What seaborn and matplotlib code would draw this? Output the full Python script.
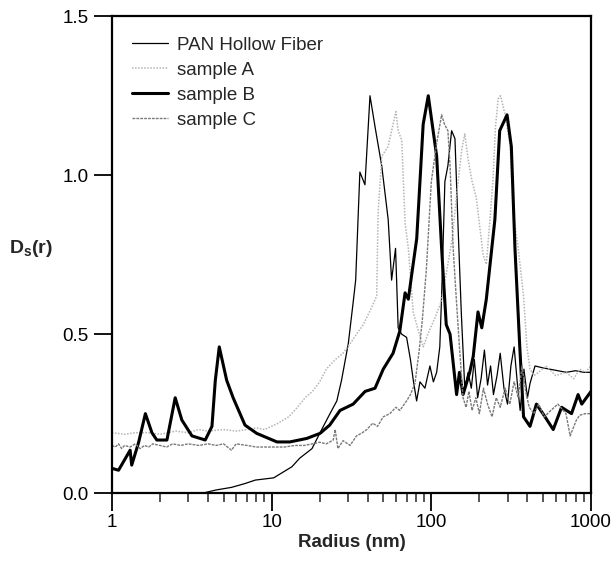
import numpy as np
import pandas as pd
import matplotlib
matplotlib.use("Agg")
import matplotlib.pyplot as plt
import seaborn as sns

# values (radius in nm, Ds(r))
pan_r = [3.7, 4.5, 5.6, 6.8, 7.9, 10.3, 13.4, 15.0, 17.9, 20.1, 23.2, 25.6, 27.4, 30.2, 32.4,
         33.6, 35.0, 35.7, 38.4, 41.3, 44.5, 48.9, 53.7, 56.4, 59.7, 62.0, 65.2, 70.0, 74.0,
         77.1, 80.9, 84.9, 91.2, 95.0, 98.0, 103, 108, 113, 116, 121.6, 127, 134, 140.6, 147,
         154, 162, 170, 178, 186, 195, 205, 215, 225, 235, 245, 258, 270, 285, 300, 315, 330,
         345, 360, 380, 400, 415, 446, 490, 550, 620, 700, 800, 900, 1000]
pan_d = [0.0, 0.01, 0.018, 0.03, 0.041, 0.048, 0.083, 0.11, 0.14, 0.19, 0.25, 0.29, 0.355, 0.47, 0.60,
         0.67, 0.90, 1.01, 0.97, 1.25, 1.15, 1.03, 0.86, 0.67, 0.77, 0.52, 0.50, 0.49, 0.42,
         0.355, 0.29, 0.35, 0.33, 0.37, 0.40, 0.35, 0.38, 0.46, 0.62, 0.98, 1.03, 1.14, 1.115, 0.84,
         0.57, 0.33, 0.38, 0.33, 0.42, 0.30, 0.36, 0.45, 0.34, 0.40, 0.31, 0.37, 0.44, 0.33, 0.28, 0.40, 0.46,
         0.35, 0.26, 0.39, 0.30, 0.345, 0.40, 0.395, 0.39, 0.385, 0.38, 0.385, 0.38, 0.38]

a_r = [1.0, 1.2, 1.4, 1.7, 2.0, 2.5, 3.0, 3.5, 4.0, 5.0, 6.0, 7.0, 8.0, 9.0, 10, 11, 12.8, 14.5,
       16.2, 18, 20, 22, 25, 28, 31, 34, 37.5, 41, 45.5, 46.4, 49, 53.6, 57, 60, 62, 65.3, 68.5,
       71.8, 77, 83, 89, 95, 105, 115, 125, 135, 145, 155, 162, 170, 180, 191, 202, 211, 221, 232,
       243, 252, 262, 271, 290, 312, 326, 350, 378, 397, 415, 440, 470, 523, 600, 697, 780, 850,
       920, 1000]
a_d = [0.19, 0.185, 0.19, 0.19, 0.185, 0.195, 0.19, 0.20, 0.195, 0.20, 0.195, 0.20, 0.205, 0.20, 0.21,
       0.22, 0.24, 0.27, 0.30, 0.32, 0.35, 0.39, 0.42, 0.44, 0.47, 0.50, 0.53, 0.57, 0.62, 0.88, 1.06,
       1.09, 1.15, 1.20, 1.14, 1.11, 0.85, 0.77, 0.57, 0.51, 0.46, 0.50, 0.55, 0.60, 0.70, 0.80, 0.95,
       1.08, 1.13, 1.05, 0.98, 0.93, 0.83, 0.75, 0.72, 0.85, 0.98, 1.15, 1.24, 1.25, 1.19, 1.09, 0.88,
       0.77, 0.62, 0.46, 0.39, 0.37, 0.38, 0.40, 0.37, 0.38, 0.36, 0.39, 0.38, 0.40]

b_r = [1.0, 1.10, 1.30, 1.33, 1.47, 1.62, 1.78, 1.91, 2.21, 2.49, 2.74, 3.17, 3.84, 4.23, 4.44,
       4.70, 5.23, 5.74, 6.81, 8.06, 10.8, 13.0, 16.6, 20.1, 23.1, 26.8, 32.4, 38.5, 44.4, 50,
       57.6, 63.5, 68.5, 71.8, 75, 81, 84.9, 88.9, 95.7, 108, 116, 124, 131, 144, 150, 158, 174,
       183, 196, 207, 221, 250, 268, 298, 317, 334, 358, 378, 415, 455, 500, 580, 654, 755, 830,
       875, 1000]
b_d = [0.078, 0.072, 0.135, 0.088, 0.16, 0.25, 0.19, 0.167, 0.167, 0.30, 0.23, 0.18, 0.167, 0.21, 0.355,
       0.46, 0.355, 0.30, 0.214, 0.188, 0.161, 0.161, 0.172, 0.188, 0.214, 0.26, 0.28, 0.32, 0.33, 0.39,
       0.44, 0.51, 0.63, 0.61, 0.68, 0.80, 0.98, 1.16, 1.25, 1.06, 0.77, 0.53, 0.50, 0.31, 0.38, 0.31, 0.38,
       0.43, 0.57, 0.52, 0.61, 0.86, 1.14, 1.19, 1.09, 0.77, 0.46, 0.24, 0.21, 0.28, 0.25, 0.20, 0.27, 0.25,
       0.31, 0.28, 0.32]

c_r = [1.0, 1.05, 1.1, 1.15, 1.2, 1.3, 1.4, 1.5, 1.6, 1.7, 1.8, 2.0, 2.2, 2.4, 2.7, 3.0, 3.5, 4.0,
       4.5, 5.0, 5.6, 6.0, 7.0, 8.0, 9.0, 10, 12, 14, 16, 18, 20, 22, 24.3, 25, 26, 28, 31, 34, 37,
       39.4, 43, 46, 50, 55, 60, 63.5, 70, 74, 79, 84, 88, 93, 100, 108, 116, 121, 127, 131, 137,
       143, 150, 158, 165, 172, 180, 190, 200, 212, 225, 240, 255, 270, 290, 310, 330, 350, 370,
       390, 410, 440, 470, 510, 560, 620, 697, 740, 810, 850, 920, 1000]
c_d = [0.15, 0.145, 0.155, 0.14, 0.15, 0.145, 0.155, 0.14, 0.15, 0.145, 0.155, 0.15, 0.145, 0.155, 0.15,
       0.155, 0.15, 0.155, 0.15, 0.155, 0.135, 0.155, 0.15, 0.145, 0.145, 0.145, 0.145, 0.15, 0.15, 0.155,
       0.16, 0.155, 0.167, 0.20, 0.14, 0.165, 0.15, 0.18, 0.19, 0.20, 0.22, 0.21, 0.24, 0.25, 0.27, 0.26,
       0.29, 0.31, 0.345, 0.45, 0.55, 0.70, 0.98, 1.10, 1.19, 1.16, 1.14, 1.03, 0.77, 0.62, 0.46, 0.30,
       0.27, 0.32, 0.26, 0.30, 0.25, 0.33, 0.28, 0.24, 0.30, 0.27, 0.33, 0.28, 0.35, 0.30, 0.40, 0.32,
       0.27, 0.25, 0.28, 0.24, 0.26, 0.28, 0.25, 0.18, 0.23, 0.245, 0.25, 0.25]

series = [
    ("PAN Hollow Fiber", pan_r, pan_d, dict(color="black", lw=0.9, linestyle="-")),
    ("sample A", a_r, a_d, dict(color="#b4b4b4", lw=1.1, linestyle=(0, (1, 1)))),
    ("sample B", b_r, b_d, dict(color="black", lw=2.2, linestyle="-")),
    ("sample C", c_r, c_d, dict(color="#7a7a7a", lw=1.0, linestyle=(0, (2, 0.8)))),
]

sns.set_style("ticks")
plt.rcParams["font.family"] = ["Liberation Sans", "DejaVu Sans"]
plt.rcParams["mathtext.fontset"] = "custom"
plt.rcParams["mathtext.bf"] = "Liberation Sans:bold"

fig = plt.figure(figsize=(6.15, 5.61), dpi=100)
ax = fig.add_axes([0.182, 0.121, 0.779, 0.850])

for name, r, d, kw in series:
    sns.lineplot(x=r, y=d, ax=ax, label=name, estimator=None, sort=False, **kw)

ax.set_xscale("log")
ax.set_xlim(1, 1000)
ax.set_ylim(0, 1.5)
ax.set_xticks([1, 10, 100, 1000])
ax.set_xticklabels(["1", "10", "100", "1000"])
ax.set_yticks([0.0, 0.5, 1.0, 1.5])
ax.set_yticklabels(["0.0", "0.5", "1.0", "1.5"])
ax.tick_params(axis="both", which="major", direction="out", length=13, width=1.3,
               labelsize=13.5, colors="black")
ax.tick_params(axis="x", which="minor", direction="out", length=6.5, width=1.1)
ax.tick_params(axis="x", which="major", pad=2)
ax.tick_params(axis="y", which="major", pad=4)
for s in ax.spines.values():
    s.set_visible(True)
    s.set_linewidth(1.6)
    s.set_color("black")

ax.set_xlabel("Radius (nm)", fontsize=13.5, fontweight="bold")
ax.xaxis.set_label_coords(0.5, -0.085)
ax.set_ylabel(r"$\mathbf{D_s}$$\mathbf{(r)}$", fontsize=14, fontweight="bold", rotation=0)
ax.yaxis.set_label_coords(-0.17, 0.49)

ax.legend(loc="upper left", bbox_to_anchor=(0.015, 0.985), frameon=False, fontsize=13.5,
          handlelength=1.9, handletextpad=0.5, labelspacing=0.42, borderaxespad=0.3)

fig.savefig("out.png", dpi=100)
